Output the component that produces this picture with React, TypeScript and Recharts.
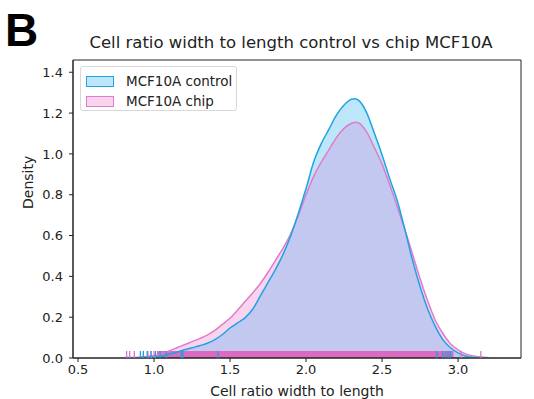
import {
  Area,
  ComposedChart,
  Line,
  ReferenceArea,
  Scatter,
  XAxis,
  YAxis,
} from 'recharts';

// KDE curves
const ratio = [
  0.8, 0.9, 0.95, 1.0, 1.05, 1.1, 1.15, 1.2, 1.25, 1.3, 1.35, 1.4, 1.45, 1.5,
  1.55, 1.6, 1.65, 1.7, 1.75, 1.8, 1.85, 1.9, 1.95, 2.0, 2.05, 2.1, 2.15, 2.2,
  2.25, 2.3, 2.32, 2.35, 2.4, 2.45, 2.5, 2.55, 2.6, 2.65, 2.7, 2.75, 2.8, 2.85,
  2.9, 2.95, 3.0, 3.05, 3.1, 3.15, 3.2,
];
const controlDensity = [
  0, 0, 0.002, 0.005, 0.01, 0.018, 0.028, 0.04, 0.05, 0.06, 0.072, 0.09, 0.115,
  0.147, 0.172, 0.198, 0.24, 0.305, 0.37, 0.435, 0.51, 0.6, 0.71, 0.83, 0.96,
  1.05, 1.12, 1.19, 1.24, 1.268, 1.27, 1.26, 1.2, 1.1, 0.995, 0.88, 0.77, 0.63,
  0.48, 0.35, 0.24, 0.155, 0.09, 0.05, 0.025, 0.01, 0.003, 0, 0,
];
const chipDensity = [
  0.002, 0.004, 0.007, 0.012, 0.02, 0.035, 0.05, 0.065, 0.08, 0.095, 0.112,
  0.135, 0.165, 0.195, 0.235, 0.278, 0.32, 0.365, 0.42, 0.48, 0.54, 0.61, 0.7,
  0.8, 0.89, 0.96, 1.02, 1.08, 1.125, 1.15, 1.155, 1.15, 1.105, 1.03, 0.95,
  0.85, 0.74, 0.63, 0.51, 0.39, 0.28, 0.185, 0.12, 0.07, 0.04, 0.02, 0.01,
  0.005, 0.002,
];

// rug marks that stand out from the dense band
const controlRug = [
  0.91, 0.93, 0.955, 0.98, 1.01, 1.04, 1.08, 1.18, 1.19, 1.42, 2.86, 2.9, 2.92,
  2.935, 2.95,
];
const chipRug = [0.82, 0.84, 0.87, 0.93, 0.96, 0.98, 1.0, 3.02, 3.15];
const chipRugBand = [1.02, 2.97];

const xTicks = [0.5, 1.0, 1.5, 2.0, 2.5, 3.0];
const yTicks = [0, 0.2, 0.4, 0.6, 0.8, 1.0, 1.2, 1.4];

const rows = ratio.map((x, i) => ({
  x,
  control: controlDensity[i],
  chip: chipDensity[i],
  both: Math.min(controlDensity[i], chipDensity[i]),
}));

const font = "'DejaVu Sans', sans-serif";
const BLUE = '#1ea3e6';
const PINK = '#e07cc8';
const RUG_H = 7;

const rugLine = (color: string) => (props: any) => (
  <line
    x1={props.cx}
    x2={props.cx}
    y1={props.cy}
    y2={props.cy - RUG_H}
    stroke={color}
    strokeWidth={1.2}
  />
);

function LegendBox() {
  const items = [
    { label: 'MCF10A control', fill: '#bde6f8', stroke: BLUE },
    { label: 'MCF10A chip', fill: '#f9d4ef', stroke: PINK },
  ];
  return (
    <div
      style={{
        position: 'absolute',
        left: 80,
        top: 66,
        width: 157,
        height: 45,
        boxSizing: 'border-box',
        border: '1px solid #d8d8d8',
        borderRadius: 3,
        background: 'rgba(255,255,255,0.8)',
        padding: '4px 0 0 5px',
        fontFamily: font,
        fontSize: 13.5,
        color: '#222',
      }}
    >
      {items.map((it) => (
        <div
          key={it.label}
          style={{ display: 'flex', alignItems: 'center', height: 20 }}
        >
          <span
            style={{
              width: 26,
              height: 9,
              background: it.fill,
              border: `1.5px solid ${it.stroke}`,
              marginRight: 12,
            }}
          />
          {it.label}
        </div>
      ))}
    </div>
  );
}

export default function App() {
  return (
    <div
      style={{
        position: 'absolute',
        left: 0,
        top: 0,
        width: 534,
        height: 399,
        background: '#fff',
        fontFamily: font,
      }}
    >
      <ComposedChart
        width={534}
        height={399}
        data={rows}
        margin={{ top: 60, right: 13, bottom: 0, left: 0 }}
        style={{ position: 'absolute', left: 0, top: 0 }}
      >
        <XAxis
          dataKey="x"
          type="number"
          domain={[0.467, 3.414]}
          allowDataOverflow
          ticks={xTicks}
          tickFormatter={(v) => Number(v).toFixed(1)}
          height={41}
          tickSize={4}
          tickMargin={3}
          stroke="#222"
          tick={{ fontSize: 13, fill: '#222', fontFamily: font }}
          label={{
            value: 'Cell ratio width to length',
            position: 'insideBottom',
            offset: 3,
            fontSize: 14,
            fill: '#222',
            fontFamily: font,
          }}
        />
        <YAxis
          type="number"
          domain={[0, 1.46]}
          allowDataOverflow
          ticks={yTicks}
          tickFormatter={(v) => Number(v).toFixed(1)}
          width={73}
          tickSize={4}
          tickMargin={6}
          stroke="#222"
          tick={{ fontSize: 13, fill: '#222', fontFamily: font }}
          label={{
            value: 'Density',
            angle: -90,
            position: 'insideLeft',
            offset: 28,
            fontSize: 14,
            fill: '#222',
            fontFamily: font,
          }}
        />
        <Area
          type="monotone"
          dataKey="control"
          stroke="none"
          fill="#bde6f8"
          fillOpacity={1}
          isAnimationActive={false}
        />
        <Area
          type="monotone"
          dataKey="chip"
          stroke="none"
          fill="#f9d4ef"
          fillOpacity={1}
          isAnimationActive={false}
        />
        <Area
          type="monotone"
          dataKey="both"
          stroke="none"
          fill="#c2c8f0"
          fillOpacity={1}
          isAnimationActive={false}
        />
        <Line
          type="monotone"
          dataKey="chip"
          stroke={PINK}
          strokeWidth={1.5}
          dot={false}
          isAnimationActive={false}
        />
        <Line
          type="monotone"
          dataKey="control"
          stroke={BLUE}
          strokeWidth={1.5}
          dot={false}
          isAnimationActive={false}
        />
        <ReferenceArea
          x1={chipRugBand[0]}
          x2={chipRugBand[1]}
          y1={0}
          y2={0.034}
          fill="#dc6ac0"
          fillOpacity={1}
          stroke="none"
        />
        <Scatter
          data={chipRug.map((x) => ({ x, y: 0 }))}
          dataKey="y"
          shape={rugLine('#dc6ac0')}
          isAnimationActive={false}
        />
        <Scatter
          data={controlRug.map((x) => ({ x, y: 0 }))}
          dataKey="y"
          shape={rugLine('#1a9fe6')}
          isAnimationActive={false}
        />
        <ReferenceArea
          x1={0.467}
          x2={3.414}
          y1={0}
          y2={1.46}
          fill="none"
          stroke="#222"
          strokeWidth={1}
        />
      </ComposedChart>
      <LegendBox />
      <div
        style={{
          position: 'absolute',
          left: 5,
          top: 7,
          lineHeight: '46px',
          fontFamily: "'Liberation Sans', Arial, sans-serif",
          fontWeight: 'bold',
          fontSize: 46,
          color: '#000',
        }}
      >
        B
      </div>
      <div
        style={{
          position: 'absolute',
          left: 73,
          width: 436,
          top: 33,
          textAlign: 'center',
          fontSize: 16.5,
          color: '#222',
        }}
      >
        Cell ratio width to length control vs chip MCF10A
      </div>
    </div>
  );
}
